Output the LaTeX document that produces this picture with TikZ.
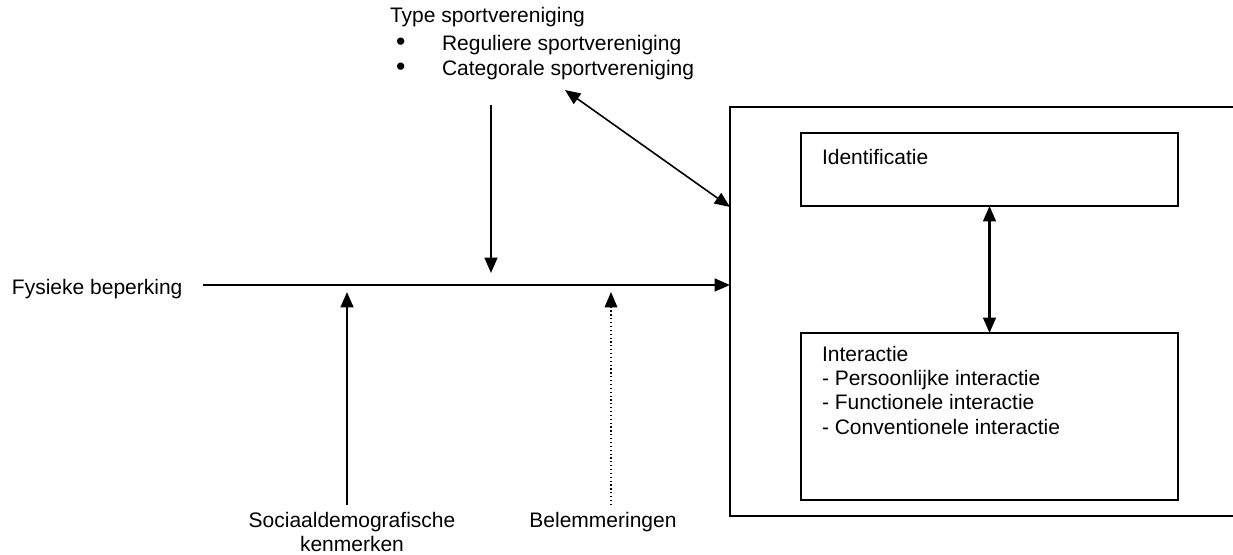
\documentclass[tikz,border=0pt]{standalone}
\usepackage{fontspec}
\setmainfont{Liberation Sans}
\usetikzlibrary{arrows.meta}
\newcommand{\bigbul}{{\fontsize{20}{20}\selectfont\textbullet}\hspace{27.5pt}}
\begin{document}
\begin{tikzpicture}[x=0.75pt,y=-0.75pt,
  every node/.style={font=\fontsize{15.75}{18.2}\selectfont, inner sep=0pt, outer sep=0pt},
  lbl/.style={anchor=west},
  box/.style={draw, line width=1.8pt, anchor=north west},
  tip/.tip={Triangle[length=11.5pt,width=9.5pt]},
  arr/.style={line width=1.7pt, -tip},
  darr/.style={line width=1.2pt, tip-tip},
  dotarr/.style={line width=0.9pt, dotted, -tip},
]
\useasboundingbox (0,0) rectangle (1233,555);
\clip (0,0) rectangle (1233,555);

% boxes
\node[box, minimum width=397.5pt, minimum height=306.75pt] (outer) at (730,107) {};
\node[box, minimum width=282.75pt, minimum height=54.75pt] (ident) at (801,133) {};
\node[box, minimum width=282.75pt, minimum height=125.25pt] (inter) at (801,333) {};

% texts
\node[lbl] (identtxt) at (822,157) {Identificatie};
\node[anchor=north west, align=left] (intertxt) at (822,346)
  {Interactie\\- Persoonlijke interactie\\- Functionele interactie\\- Conventionele interactie};
\node[lbl] (fys) at (12,289) {Fysieke beperking};
\node[lbl] (type) at (390,17) {Type sportvereniging};
\node[anchor=base west] (reg) at (396,51) {\bigbul Reguliere sportvereniging};
\node[anchor=base west] (cat) at (396,76) {\bigbul Categorale sportvereniging};
\node[align=center] (soc) at (352,532) {Sociaaldemografische\\kenmerken};
\node (bel) at (603,522) {Belemmeringen};

% coordinates
\coordinate (hstart) at (203,285);
\coordinate (hend) at (outer.west |- hstart);
\coordinate (dtop) at (491,105);
\coordinate (dtip) at (491,273);
\coordinate (stop) at (347,505);
\coordinate (stip) at (347,292);
\coordinate (btop) at (611,505);
\coordinate (btip) at (611,292);
\coordinate (diagA) at (565,90);
\coordinate (diagB) at (730,207);

% connectors
\draw[arr] (hstart) -- (hend);
\draw[arr] (dtop) -- (dtip);
\draw[arr] (stop) -- (stip);
\draw[dotarr] (btop) -- (btip);
\draw[darr] (diagA) -- (diagB);
\draw[line width=1.7pt, tip-tip] (ident.south) -- (inter.north);
\end{tikzpicture}
\end{document}
